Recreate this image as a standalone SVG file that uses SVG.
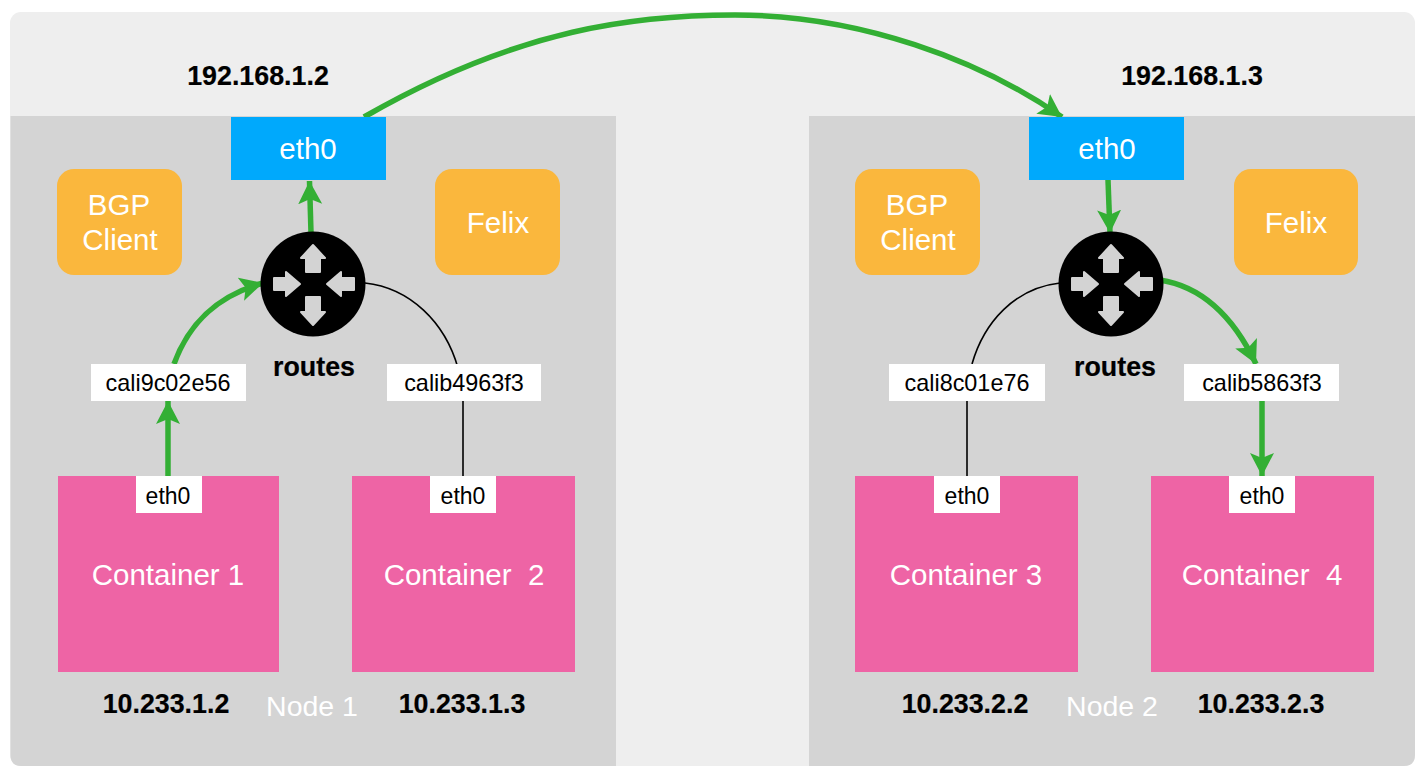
<svg xmlns="http://www.w3.org/2000/svg" width="1422" height="774" viewBox="0 0 1422 774">
<style>
text{font-family:"Liberation Sans",Arial,sans-serif;text-anchor:middle}
.ip{font-size:26.800px;font-weight:bold;fill:#000;stroke:#000;stroke-width:.2px}
.nl{font-size:29.500px;fill:#fff}
.w{font-size:29.500px;fill:#fff}
.c{font-size:23.400px;fill:#000}
.e{font-size:23px;fill:#000}
.big{font-size:29.500px;fill:#fff}
.node{font-size:28.500px;fill:#fff}
.blue{fill:#00a9fc}.or{fill:#fab73d}.pk{fill:#ee64a5}.wh{fill:#fff}
.g{fill:none;stroke:#33af34;stroke-width:5.500}
.k{fill:none;stroke:#000;stroke-width:1.600}
</style>
<defs>
<marker id="a" markerUnits="userSpaceOnUse" markerWidth="26" markerHeight="26" refX="23" refY="12" orient="auto"><path d="M0 0L23 12L0 24L5 12Z" fill="#33af34"/></marker>
<g id="r"><circle r="52.500" fill="#000"/>
<g fill="#d3d3d3" stroke="#d3d3d3" stroke-width="2" stroke-linejoin="round">
<path d="M-7 -12V-26H-12L0 -39L12 -26H7V-12Z"/>
<path d="M-7 13V28H-12L0 41L12 28H7V13Z"/>
<path d="M-39 -6H-27V-12L-13 0L-27 12V6H-39Z"/>
<path d="M41 -6H28V-12L14 0L28 12V6H41Z"/>
</g></g>
</defs>
<rect width="1422" height="774" fill="#fff"/>
<rect id="bg" x="10" y="12" width="1405" height="754" rx="11" fill="#eeeeee"/>
<path id="node1-panel" d="M10.500 116H616V766H21Q10.500 766 10.500 755Z" fill="#d4d4d4"/>
<path id="node2-panel" d="M809 116H1415V755Q1415 766 1404 766H809Z" fill="#d4d4d4"/>
<g id="connectors">
<path class="k" d="M365 283C410 288 445 322 458 368"/>
<path class="k" d="M463 401V476"/>
<path class="k" d="M1060 283C1015 288 984 322 972 364"/>
<path class="k" d="M967 401V476"/>
<path class="g" d="M364 117C520 27 640 15 735 15C860 15 980 60 1062 117" marker-end="url(#a)"/>
<path class="g" d="M311 233L309.500 181" marker-end="url(#a)"/>
<path class="g" d="M174 364C190 320 220 295 263 283" marker-end="url(#a)"/>
<path class="g" d="M168 476V401" marker-end="url(#a)"/>
<path class="g" d="M1108 180L1110 233" marker-end="url(#a)"/>
<path class="g" d="M1160 280C1205 287 1235 320 1256 364" marker-end="url(#a)"/>
<path class="g" d="M1262 401V476" marker-end="url(#a)"/>
</g>
<text class="ip" x="258" y="85">192.168.1.2</text>
<text class="ip" x="1192" y="85">192.168.1.3</text>
<g id="n1-eth0"><rect class="blue" x="231" y="117" width="155" height="63"/><text class="nl" x="308" y="159">eth0</text></g>
<g id="n2-eth0"><rect class="blue" x="1029" y="117" width="155" height="63"/><text class="nl" x="1107" y="159">eth0</text></g>
<g id="n1-bgp"><rect class="or" x="57" y="169" width="125" height="106" rx="17"/><text class="w" x="119" y="215">BGP</text><text class="w" x="120" y="250">Client</text></g>
<g id="n1-felix"><rect class="or" x="435" y="169" width="125" height="106" rx="17"/><text class="w" x="498" y="233">Felix</text></g>
<g id="n2-bgp"><rect class="or" x="855" y="169" width="125" height="106" rx="17"/><text class="w" x="917" y="215">BGP</text><text class="w" x="918" y="250">Client</text></g>
<g id="n2-felix"><rect class="or" x="1234" y="169" width="124" height="106" rx="17"/><text class="w" x="1296" y="233">Felix</text></g>
<g id="n1-router"><use href="#r" x="313" y="284"/><text class="ip" x="314" y="376">routes</text></g>
<g id="n2-router"><use href="#r" x="1111" y="284"/><text class="ip" x="1115" y="376">routes</text></g>
<g id="cali1"><rect class="wh" x="91" y="364" width="155" height="37"/><text class="c" x="168" y="391">cali9c02e56</text></g>
<g id="cali2"><rect class="wh" x="387" y="364" width="154" height="37"/><text class="c" x="464" y="391">calib4963f3</text></g>
<g id="cali3"><rect class="wh" x="889" y="364" width="156" height="37"/><text class="c" x="967" y="391">cali8c01e76</text></g>
<g id="cali4"><rect class="wh" x="1184" y="364" width="155" height="37"/><text class="c" x="1262" y="391">calib5863f3</text></g>
<g id="c1"><rect class="pk" x="58" y="476" width="221" height="196"/><rect class="wh" x="136" y="476" width="66" height="37"/><text class="e" x="168" y="504">eth0</text><text class="big" x="168" y="585">Container 1</text></g>
<g id="c2"><rect class="pk" x="352" y="476" width="223" height="196"/><rect class="wh" x="430" y="476" width="66" height="37"/><text class="e" x="463" y="504">eth0</text><text class="big" x="464" y="585" xml:space="preserve">Container  2</text></g>
<g id="c3"><rect class="pk" x="855" y="476" width="223" height="196"/><rect class="wh" x="934" y="476" width="66" height="37"/><text class="e" x="967" y="504">eth0</text><text class="big" x="966" y="585">Container 3</text></g>
<g id="c4"><rect class="pk" x="1151" y="476" width="223" height="196"/><rect class="wh" x="1229" y="476" width="66" height="37"/><text class="e" x="1262" y="504">eth0</text><text class="big" x="1262" y="585" xml:space="preserve">Container  4</text></g>
<text class="ip" x="166" y="713">10.233.1.2</text>
<text class="ip" x="462" y="713">10.233.1.3</text>
<text class="ip" x="965" y="713">10.233.2.2</text>
<text class="ip" x="1261" y="713">10.233.2.3</text>
<text class="node" x="312" y="716">Node 1</text>
<text class="node" x="1112" y="716">Node 2</text>
</svg>
